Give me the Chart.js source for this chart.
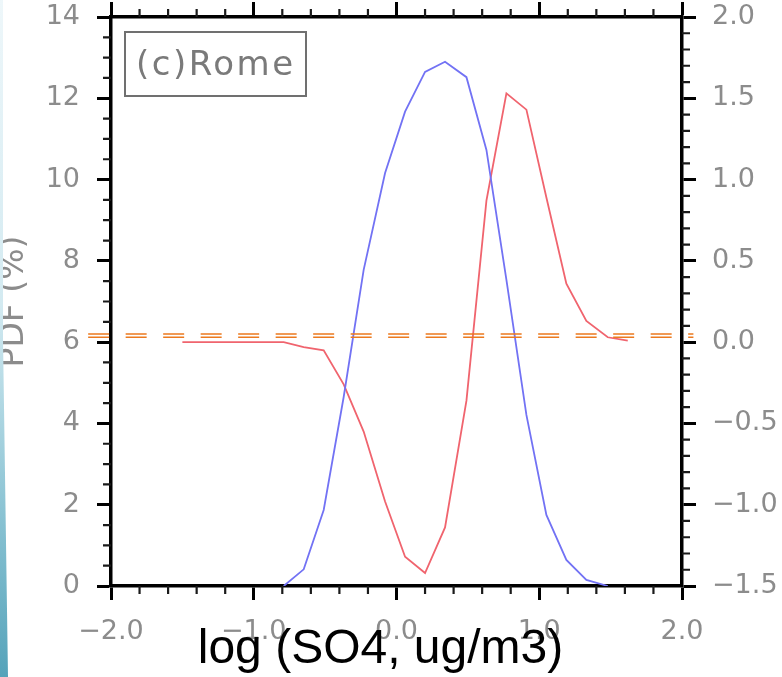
<!DOCTYPE html>
<html>
<head>
<meta charset="utf-8">
<title>(c)Rome - PDF of log SO4</title>
<script src="https://cdn.jsdelivr.net/npm/chart.js@4.4.1/dist/chart.umd.min.js"></script>
<style>
  html, body { margin: 0; padding: 0; background: #fff; overflow: hidden; }
  #wrap { position: relative; width: 782px; height: 677px; }
  #edge {
    position: absolute; left: 0; top: 0; width: 8px; height: 677px;
    background: linear-gradient(to bottom, #eef7fa 0%, #d3eaf1 45%, #8cc4d4 75%, #55a3ba 100%);
    clip-path: polygon(0 0, 3px 0, 3px 50%, 8px 100%, 0 100%);
  }
</style>
</head>
<body>
<div id="wrap">
  <canvas id="chart" width="782" height="677"></canvas>
  <div id="edge"></div>
</div>
<script>
// bin centres, log10(SO4 ug/m3)
const logBins = [-1.50, -1.36, -1.22, -1.08, -0.93, -0.79, -0.65, -0.51, -0.37, -0.23, -0.08, 0.06,
                 0.20, 0.34, 0.49, 0.63, 0.77, 0.91, 1.05, 1.19, 1.33, 1.48, 1.62];
// blue curve, PDF (%) on the left axis
const pdfPercent = [null, null, null, null, null, 0, 0.41, 1.87, 4.65, 7.78, 10.16, 11.67,
                    12.65, 12.9, 12.52, 10.73, 7.53, 4.21, 1.75, 0.64, 0.15, 0, null];
// red curve, right axis
const pdfChange = [0, 0, 0, 0, 0, 0, -0.03, -0.05, -0.26, -0.55, -0.98, -1.32,
                   -1.42, -1.14, -0.36, 0.87, 1.53, 1.43, 0.89, 0.36, 0.13, 0.03, 0.01];
// orange double dashed line (left axis units)
const refLineX = [-2.16, 2.08];
const refLineUpper = [6.20, 6.20];
const refLineLower = [6.12, 6.12];

const grey = '#8c8c8c';
const tickFont = { family: 'DejaVu Sans', size: 27 };
const fmt = v => v.toFixed(1).replace('-', '\u2212');

function pts(xs, ys) {
    return xs.map((x, i) => ({ x: x, y: ys[i] })).filter(p => p.y !== null);
}

// minor tick positions
const xMinor = [], yMinor = [], y2Minor = [];
for (let i = -20; i <= 20; i += 2) if (i % 10 !== 0) xMinor.push(i / 10);
for (let i = 0; i <= 28; i++) if (i % 4 !== 0) yMinor.push(i / 2);
for (let i = -15; i <= 20; i++) if (i % 5 !== 0) y2Minor.push(i / 10);

const minorTicks = {
    id: 'minorTicks',
    afterDraw(chart) {
        const { ctx, chartArea: a, scales } = chart;
        ctx.save();
        ctx.strokeStyle = '#1a1a1a';
        ctx.lineWidth = 2.2;
        ctx.beginPath();
        xMinor.forEach(v => {
            const px = scales.x.getPixelForValue(v);
            ctx.moveTo(px, a.bottom); ctx.lineTo(px, a.bottom + 8);
            ctx.moveTo(px, a.top); ctx.lineTo(px, a.top - 8);
        });
        yMinor.forEach(v => {
            const py = scales.y.getPixelForValue(v);
            ctx.moveTo(a.left, py); ctx.lineTo(a.left - 8, py);
        });
        y2Minor.forEach(v => {
            const py = scales.y2.getPixelForValue(v);
            ctx.moveTo(a.right, py); ctx.lineTo(a.right + 8, py);
        });
        ctx.stroke();
        ctx.restore();
    }
};

const annotations = {
    id: 'annotations',
    afterDraw(chart) {
        const { ctx, chartArea: a } = chart;
        ctx.save();
        ctx.strokeStyle = '#707070';
        ctx.lineWidth = 2;
        ctx.strokeRect(a.left + 14, a.top + 15, 181, 64);
        ctx.fillStyle = '#7a7a7a';
        ctx.font = '34px "DejaVu Sans"';
        ctx.letterSpacing = '2.5px';
        ctx.textBaseline = 'alphabetic';
        ctx.fillText('(c)Rome', a.left + 25, a.top + 58);

        ctx.letterSpacing = '0px';
        ctx.fillStyle = '#000';
        ctx.font = '48px "Liberation Sans"';
        ctx.textAlign = 'center';
        ctx.fillText('log (SO4, ug/m3)', (a.left + a.right) / 2 - 16, a.bottom + 77);
        ctx.restore();
    }
};

const axisGrid = { drawOnChartArea: false, tickLength: 14, tickWidth: 3, tickColor: '#000' };
const axisBorder = { display: true, color: '#000', width: 3.5 };

// fixed box sizes so the plot frame sits where the original one does
function fixBox(size) {
    return s => {
        if (s.isHorizontal()) s.height = size; else s.width = size;
        s.paddingTop = 0; s.paddingBottom = 0;
        s.paddingLeft = 0; s.paddingRight = 0;
    };
}

new Chart(document.getElementById('chart'), {
    type: 'line',
    data: {
        datasets: [
            {
                label: 'ref upper',
                data: pts(refLineX, refLineUpper),
                borderColor: '#ec7a1f', borderWidth: 1.7, borderDash: [21, 16.5],
                pointRadius: 0, clip: false, yAxisID: 'y'
            },
            {
                label: 'ref lower',
                data: pts(refLineX, refLineLower),
                borderColor: '#ec7a1f', borderWidth: 1.7, borderDash: [21, 16.5],
                pointRadius: 0, clip: false, yAxisID: 'y'
            },
            {
                label: 'PDF',
                data: pts(logBins, pdfPercent),
                borderColor: '#7272f4', borderWidth: 1.8,
                pointRadius: 0, tension: 0, yAxisID: 'y'
            },
            {
                label: 'change',
                data: pts(logBins, pdfChange),
                borderColor: '#f0646e', borderWidth: 1.8,
                pointRadius: 0, tension: 0, yAxisID: 'y2'
            }
        ]
    },
    options: {
        responsive: false,
        animation: false,
        events: [],
        layout: { padding: 0 },
        plugins: { legend: { display: false }, tooltip: { enabled: false } },
        scales: {
            x: {
                type: 'linear', position: 'bottom', min: -2, max: 2,
                ticks: { stepSize: 1, color: grey, font: tickFont, padding: 16, callback: fmt, maxRotation: 0 },
                grid: axisGrid, border: axisBorder,
                afterFit: fixBox(91)
            },
            x2: {
                type: 'linear', position: 'top', min: -2, max: 2,
                ticks: { stepSize: 1, display: false },
                grid: Object.assign({}, axisGrid, { tickLength: 15 }), border: axisBorder,
                afterFit: fixBox(17)
            },
            y: {
                type: 'linear', position: 'left', min: 0, max: 14,
                ticks: { stepSize: 2, color: grey, font: tickFont, padding: 17 },
                grid: axisGrid, border: axisBorder,
                title: {
                    display: true, text: 'PDF (%)', color: grey,
                    font: { family: 'DejaVu Sans', size: 33 }, padding: { top: -5, bottom: 0 }
                },
                afterFit: fixBox(111)
            },
            y2: {
                type: 'linear', position: 'right', min: -1.5, max: 2.0,
                ticks: { stepSize: 0.5, color: grey, font: tickFont, padding: 16, callback: fmt },
                grid: axisGrid, border: axisBorder,
                afterFit: fixBox(100)
            }
        }
    },
    plugins: [minorTicks, annotations]
});
</script>
</body>
</html>
